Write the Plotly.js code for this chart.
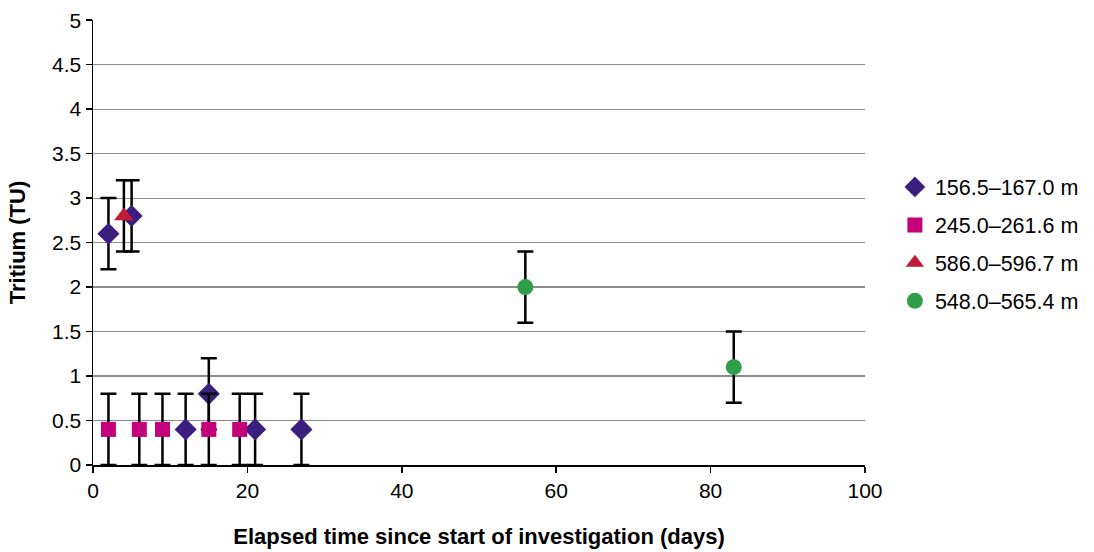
<!DOCTYPE html>
<html>
<head>
<meta charset="utf-8">
<script src="https://cdn.plot.ly/plotly-3.0.1.min.js"></script>
<style>html,body{margin:0;padding:0;background:#fff}#chart{width:1094px;height:552px}</style>
</head>
<body>
<div id="chart"></div>
<script>
// Data
const seriesNames = ["156.5–167.0 m", "245.0–261.6 m", "586.0–596.7 m", "548.0–565.4 m"];
const diamondX = [2, 5, 12, 15, 21, 27];
const diamondY = [2.6, 2.8, 0.4, 0.8, 0.4, 0.4];
const diamondErr = [0.4, 0.4, 0.4, 0.4, 0.4, 0.4];
const squareX = [2, 6, 9, 15, 19];
const squareY = [0.4, 0.4, 0.4, 0.4, 0.4];
const squareErr = [0.4, 0.4, 0.4, 0.4, 0.4];
const triangleX = [4];
const triangleY = [2.8];
const triangleErr = [0.4];
const circleX = [56, 83];
const circleY = [2.0, 1.1];
const circleErr = [0.4, 0.4];
const xTicks = [0, 20, 40, 60, 80, 100];
const yTicks = [0, 0.5, 1, 1.5, 2, 2.5, 3, 3.5, 4, 4.5, 5];

const errStyle = (arr) => ({type: 'data', array: arr, visible: true, color: '#000', thickness: 2.5, width: 8});

const traces = [
  {x: diamondX, y: diamondY, name: seriesNames[0], legendgroup: 'a', mode: 'markers', type: 'scatter',
   marker: {symbol: 'diamond', size: 17, color: '#3B1E7E'}, error_y: errStyle(diamondErr)},
  {x: squareX, y: squareY, name: seriesNames[1], legendgroup: 'b', mode: 'markers', type: 'scatter',
   marker: {symbol: 'square', size: 15, color: '#C4007A'}, error_y: errStyle(squareErr)},
  {x: triangleX, y: triangleY, name: seriesNames[2], legendgroup: 'c', mode: 'markers', type: 'scatter',
   marker: {symbol: 'triangle-up', size: 17, color: '#C01C36'}, error_y: errStyle(triangleErr)},
  {x: circleX, y: circleY, name: seriesNames[3], legendgroup: 'd', mode: 'markers', type: 'scatter',
   marker: {symbol: 'circle', size: 16, color: '#2E9E48'}, error_y: errStyle(circleErr)}
];

const layout = {
  width: 1094, height: 552,
  margin: {l: 93, r: 229, t: 20, b: 87},
  paper_bgcolor: '#fff', plot_bgcolor: '#fff',
  font: {family: 'Liberation Sans, Arial, sans-serif', size: 21, color: '#000'},
  showlegend: true,
  legend: {xref: 'container', yref: 'container', x: 0.818, y: 0.558, xanchor: 'left', yanchor: 'middle',
           font: {size: 21.5}, itemwidth: 30, tracegroupgap: 7, bgcolor: 'rgba(0,0,0,0)'},
  xaxis: {
    range: [0, 100], tickvals: xTicks, ticktext: xTicks.map(String),
    showgrid: false, zeroline: false, showline: true, linecolor: '#000', linewidth: 1.5,
    ticks: 'outside', ticklen: 6, tickcolor: '#000', tickwidth: 1.5,
    tickfont: {size: 21},
    title: {text: '<b>Elapsed time since start of investigation (days)</b>', font: {size: 22}, standoff: 28}
  },
  yaxis: {
    range: [0, 5.002], tickvals: yTicks, ticktext: yTicks.map(String),
    showgrid: true, gridcolor: '#8c8c8c', gridwidth: 1.2, zeroline: false,
    showline: true, linecolor: '#000', linewidth: 1.5,
    ticks: 'outside', ticklen: 6, tickcolor: '#000', tickwidth: 1.5,
    tickfont: {size: 21},
    title: {text: '<b>Tritium (TU)</b>', font: {size: 22}, standoff: 20}
  }
};

Plotly.newPlot('chart', traces, layout, {displayModeBar: false, staticPlot: true});
</script>
</body>
</html>
